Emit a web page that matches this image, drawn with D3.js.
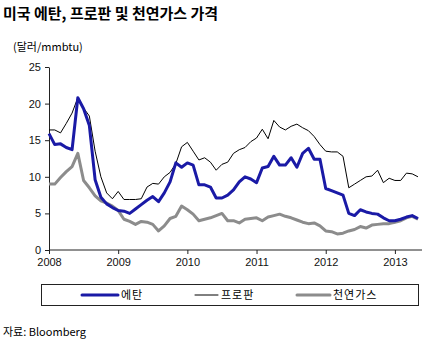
<!DOCTYPE html>
<html><head><meta charset="utf-8">
<script src="https://cdn.jsdelivr.net/npm/d3@7"></script>
<style>
html,body{margin:0;padding:0;background:#fff;}
svg{display:block;font-family:"Liberation Sans","Noto Sans CJK KR",sans-serif;}
</style></head>
<body><svg id="c" width="430" height="341"></svg>
<script>
const years = ["2008","2009","2010","2011","2012","2013"];
const yTicks = [0,5,10,15,20,25];
// monthly, Jan 2008 .. May 2013
const ethane = [15.9,14.4,14.5,14.0,13.7,20.8,19.3,17.0,9.6,7.2,6.3,5.8,
  5.4,5.3,5.0,5.6,6.2,6.8,7.3,6.6,7.8,9.3,11.9,11.3,
  11.9,11.6,8.9,8.9,8.6,7.1,7.1,7.5,8.2,9.3,10.0,9.7,
  9.2,11.2,11.4,12.8,11.6,11.6,12.6,11.3,13.2,13.9,12.4,12.4,
  8.4,8.1,7.8,7.5,5.0,4.7,5.5,5.2,5.0,4.9,4.4,4.0,
  4.0,4.2,4.5,4.7,4.3];
const propane = [16.4,16.4,16.0,17.3,18.7,20.8,19.4,18.3,13.5,10.0,7.8,7.0,
  8.0,6.9,6.9,6.9,7.0,8.6,9.1,9.0,10.0,10.6,11.8,14.1,
  14.7,13.5,12.3,12.6,12.0,10.9,11.7,12.0,13.2,13.7,14.0,14.8,
  15.3,16.5,15.2,17.7,16.8,16.4,16.9,17.2,16.7,16.3,15.5,14.4,
  13.5,13.4,13.4,12.8,8.5,9.0,9.5,10.0,10.1,10.9,9.2,9.8,
  9.5,9.5,10.5,10.4,10.0];
const gas = [9.0,9.0,9.9,10.7,11.4,13.2,9.5,8.5,7.4,6.7,6.4,6.0,
  5.4,4.2,3.9,3.5,3.9,3.8,3.5,2.6,3.3,4.3,4.6,6.0,
  5.5,4.9,4.0,4.2,4.4,4.7,5.0,4.0,4.0,3.7,4.2,4.3,
  4.4,4.0,4.5,4.7,4.9,4.6,4.4,4.1,3.8,3.6,3.7,3.3,
  2.6,2.5,2.2,2.3,2.6,2.8,3.2,3.0,3.4,3.5,3.6,3.6,
  3.8,4.0,4.4,4.6,4.2];
const seriesNames = ["에탄","프로판","천연가스"];
const seriesColors = ["#1a1aa6","#000000","#8c8c8c"];
const seriesWidths = [3,1,3];

const svg = d3.select("#c");
const x = d3.scaleLinear().domain([0,64.7]).range([49,422]);
const y = d3.scaleLinear().domain([0,25]).range([250,67]);

svg.append("text").attr("x",3).attr("y",19).attr("font-size",15).attr("font-weight","bold")
  .attr("font-family","'Noto Sans CJK KR',sans-serif").text("미국 에탄, 프로판 및 천연가스 가격");
svg.append("text").attr("x",13).attr("y",51).attr("font-size",11)
  .attr("font-family","'Noto Sans CJK KR',sans-serif").text("(달러/mmbtu)");

const ya = svg.append("g").attr("transform","translate(49,0)")
  .call(d3.axisLeft(y).tickValues(yTicks).tickSize(4).tickSizeOuter(0));
const xa = svg.append("g").attr("transform","translate(0,250)")
  .call(d3.axisBottom(x).tickValues(years.map((d,i)=>i*12)).tickFormat((d,i)=>years[i]).tickSize(4).tickSizeOuter(0));
[ya,xa].forEach(g=>{
  g.select(".domain").attr("stroke","#222");
  g.selectAll(".tick line").attr("stroke","#222");
  g.selectAll("text").attr("font-size",11).attr("fill","#111")
   .attr("font-family","'Liberation Sans',sans-serif");
});
ya.selectAll("text").attr("x",-8);
xa.selectAll("text").attr("y",8);
// extend x axis to right end
xa.select(".domain").attr("d","M49,0H422");

const line = d3.line().x((d,i)=>x(i)).y(d=>y(d));
[gas,propane,ethane].forEach((data,k)=>{
  const idx = [2,1,0][k];
  svg.append("path").datum(data).attr("d",line).attr("fill","none")
    .attr("stroke",seriesColors[idx]).attr("stroke-width",seriesWidths[idx])
    .attr("stroke-linejoin","round");
});

// legend
svg.append("rect").attr("x",41.5).attr("y",284.5).attr("width",377).attr("height",21)
  .attr("fill","none").attr("stroke","#222");
const lx = [[82,118],[195,218],[297,330]];
seriesNames.forEach((n,i)=>{
  svg.append("line").attr("x1",lx[i][0]).attr("x2",lx[i][1]).attr("y1",295).attr("y2",295)
    .attr("stroke",seriesColors[i]).attr("stroke-width",seriesWidths[i]).attr("stroke-linecap","round");
  svg.append("text").attr("x",lx[i][1]+3).attr("y",299).attr("font-size",11)
    .attr("font-family","'Noto Sans CJK KR',sans-serif").attr("letter-spacing",1).text(n);
});
svg.append("text").attr("x",3).attr("y",336).attr("font-size",11)
  .attr("font-family","'Noto Sans CJK KR',sans-serif").text("자료: Bloomberg");
</script></body></html>
